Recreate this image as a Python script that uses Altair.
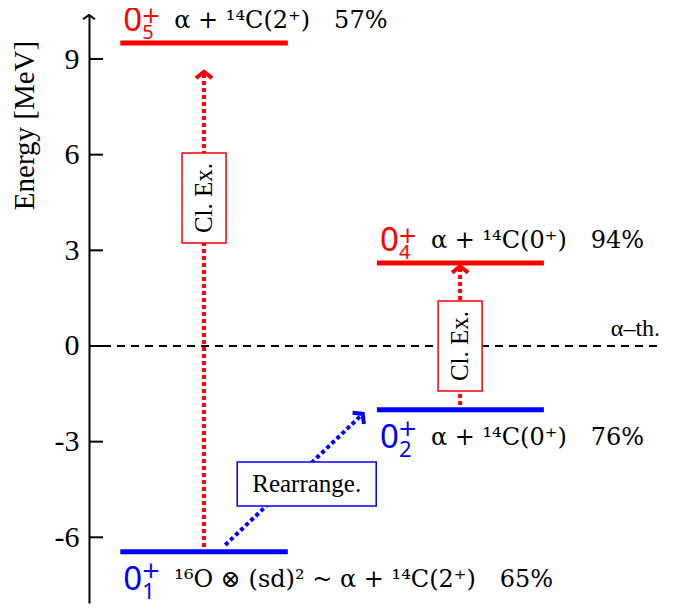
import altair as alt
import pandas as pd

# ---------------- data ----------------
tick_values = [-6, -3, 0, 3, 6, 9]
y_domain = [-8.06, 10.38]
x_domain = [0, 10]

# energy levels (0+ states)
level_index = ["1", "2", "4", "5"]
level_energy = [-6.45, -2.0, 2.6, 9.5]
level_x_start = [0.53, 4.88, 4.88, 0.53]
level_x_end = [3.37, 7.71, 7.71, 3.37]
level_group = ["Rearrange.", "Rearrange.", "Cl. Ex.", "Cl. Ex."]
level_side = ["below", "below", "above", "above"]
level_text = [
    "\u00b9\u2076O \u2297 (sd)\u00b2 ~ \u03b1 + \u00b9\u2074C(2\u207a)\u200365%",
    "\u03b1 + \u00b9\u2074C(0\u207a)\u200376%",
    "\u03b1 + \u00b9\u2074C(0\u207a)\u200394%",
    "\u03b1 + \u00b9\u2074C(2\u207a)\u200357%",
]

# alpha threshold
threshold_energy = [0.0]
threshold_x_start = [0.0]
threshold_x_end = [9.68]
threshold_label = ["\u03b1\u2013th."]

# transitions (dotted arrows)
arrow_kind = ["Cl. Ex.", "Cl. Ex.", "Rearrange."]
arrow_x0 = [1.95, 6.29, 2.31]
arrow_e0 = [-6.3, -1.85, -6.24]
arrow_x1 = [1.95, 6.29, 4.64]
arrow_e1 = [8.6, 2.5, -2.13]
box_x = [1.95, 6.29, 3.69]
box_e = [4.64, 0.0, -4.33]

levels = pd.DataFrame({
    "idx": level_index, "e": level_energy, "x0": level_x_start,
    "x1": level_x_end, "group": level_group, "side": level_side,
    "label": level_text,
})
thr = pd.DataFrame({"e": threshold_energy, "x0": threshold_x_start,
                    "x1": threshold_x_end, "label": threshold_label})
arrows = pd.DataFrame({"kind": arrow_kind, "x0": arrow_x0, "e0": arrow_e0,
                       "x1": arrow_x1, "e1": arrow_e1, "bx": box_x, "be": box_e})
ticks = pd.DataFrame({"e": tick_values})
one = pd.DataFrame({"k": [0]})

# ---------------- scales / axes ----------------
xs = alt.Scale(domain=x_domain, nice=False, zero=False)
ys = alt.Scale(domain=y_domain, nice=False, zero=False)
cscale = alt.Scale(domain=["Rearrange.", "Cl. Ex."], range=["#0000ff", "#ff0000"])
yaxis = alt.Axis(
    values=tick_values, title="Energy [MeV]", ticks=False, tickSize=0, grid=False,
    domain=True, domainColor="black", domainWidth=2,
    labelFont="Liberation Serif", labelFontSize=30, labelColor="black",
    labelPadding=10, labelExpr="datum.value + ''",
    titleFont="Liberation Serif", titleFontSize=29, titleFontWeight="normal",
    titleColor="black", titleAngle=270, titleX=-65, titleY=110,
    titleAlign="center", titleBaseline="middle",
)


def X(f):
    return alt.X(f, type="quantitative", scale=xs, axis=None)


def Y(f):
    return alt.Y(f, type="quantitative", scale=ys, axis=yaxis)


col = alt.Color("group:N", scale=cscale, legend=None)
acol = alt.Color("kind:N", scale=cscale, legend=None)

# ---------------- layers ----------------
tick_marks = alt.Chart(ticks).mark_rule(color="black", strokeWidth=2).encode(
    y=Y("e"), x=alt.value(0), x2=alt.value(14))

axis_arrow = alt.Chart(one).mark_point(
    shape="M-1,0.7L0,0L1,0.7", size=144, filled=False, strokeWidth=2,
    color="black", opacity=1).encode(x=alt.value(0), y=alt.value(0))

zero_line = alt.Chart(thr).mark_rule(color="black", strokeWidth=2, strokeDash=[8, 6]).encode(
    x=X("x0"), x2="x1", y=Y("e"))
zero_text = alt.Chart(thr).mark_text(
    align="right", baseline="alphabetic", dy=-10, font="Liberation Serif",
    fontSize=24, color="black").encode(x=X("x1"), y=Y("e"), text="label:N")

arrow_lines = alt.Chart(arrows).mark_rule(strokeWidth=4, strokeDash=[4, 3]).encode(
    x=X("x0"), x2="x1", y=Y("e0"), y2="e1", color=acol)

chev = "M-1,0.8L0,0L1,0.8"
heads_up = alt.Chart(arrows).transform_filter(alt.datum.kind == "Cl. Ex.").mark_point(
    shape=chev, size=256, filled=False, strokeWidth=4, opacity=1).encode(
    x=X("x1"), y=Y("e1"), color=acol)
heads_diag = alt.Chart(arrows).transform_filter(alt.datum.kind == "Rearrange.").mark_point(
    shape=chev, size=256, filled=False, strokeWidth=4, opacity=1, angle=45).encode(
    x=X("x1"), y=Y("e1"), color=acol)

box_cl = alt.Chart(arrows).transform_filter(alt.datum.kind == "Cl. Ex.").mark_point(
    shape="M-0.489,-1H0.489V1H-0.489Z", size=8100, fill="white", stroke="#ff0000",
    strokeWidth=1.5, opacity=1, fillOpacity=1, filled=True).encode(
    x=X("bx"), y=Y("be"))
box_re = alt.Chart(arrows).transform_filter(alt.datum.kind == "Rearrange.").mark_point(
    shape="M-1,-0.317H1V0.317H-1Z", size=19321, fill="white", stroke="#0000ff",
    strokeWidth=1.5, opacity=1, fillOpacity=1, filled=True).encode(
    x=X("bx"), y=Y("be"))
text_cl = alt.Chart(arrows).transform_filter(alt.datum.kind == "Cl. Ex.").mark_text(
    angle=270, align="center", baseline="middle", font="Liberation Serif",
    fontSize=25, color="black").encode(x=X("bx"), y=Y("be"), text="kind:N")
text_re = alt.Chart(arrows).transform_filter(alt.datum.kind == "Rearrange.").mark_text(
    align="center", baseline="middle", font="Liberation Serif",
    fontSize=25, color="black").encode(x=X("bx"), y=Y("be"), text="kind:N")

level_lines = alt.Chart(levels).mark_rule(strokeWidth=5).encode(
    x=X("x0"), x2="x1", y=Y("e"), color=col)


def label_layers(side, base_dy, sup_dy, sub_dy, rest_dy, sub_size):
    src = alt.Chart(levels).transform_filter(alt.datum.side == side)
    zero = src.mark_text(text="0", align="left", baseline="alphabetic", dx=3, dy=base_dy,
                         font="Noto Sans", fontSize=33).encode(x=X("x0"), y=Y("e"), color=col)
    sup = src.mark_text(text="+", align="left", baseline="alphabetic", dx=21, dy=sup_dy,
                        font="DejaVu Sans", fontSize=23).encode(x=X("x0"), y=Y("e"), color=col)
    sub = src.mark_text(align="left", baseline="alphabetic", dx=22, dy=sub_dy,
                        font="Noto Sans", fontSize=sub_size).encode(
        x=X("x0"), y=Y("e"), color=col, text="idx:N")
    rest = src.mark_text(align="left", baseline="alphabetic", dx=54, dy=rest_dy,
                         font="DejaVu Serif", fontSize=24, color="black").encode(
        x=X("x0"), y=Y("e"), text="label:N")
    return [zero, sup, sub, rest]


layers = [zero_line, zero_text, arrow_lines, box_cl, box_re, text_cl, text_re,
          heads_up, heads_diag, level_lines, tick_marks, axis_arrow]
layers += label_layers("above", -12, -20, -4, -15, 20)
layers += label_layers("below", 38, 26, 47, 35, 22)

chart = alt.layer(*layers).properties(
    width=590, height=588,
    autosize=alt.AutoSizeParams(type="none"),
    padding={"left": 81, "top": 7, "right": 0, "bottom": 6},
).configure_view(stroke=None)

chart.save("out.html", embed_options={"renderer": "svg", "actions": False})
